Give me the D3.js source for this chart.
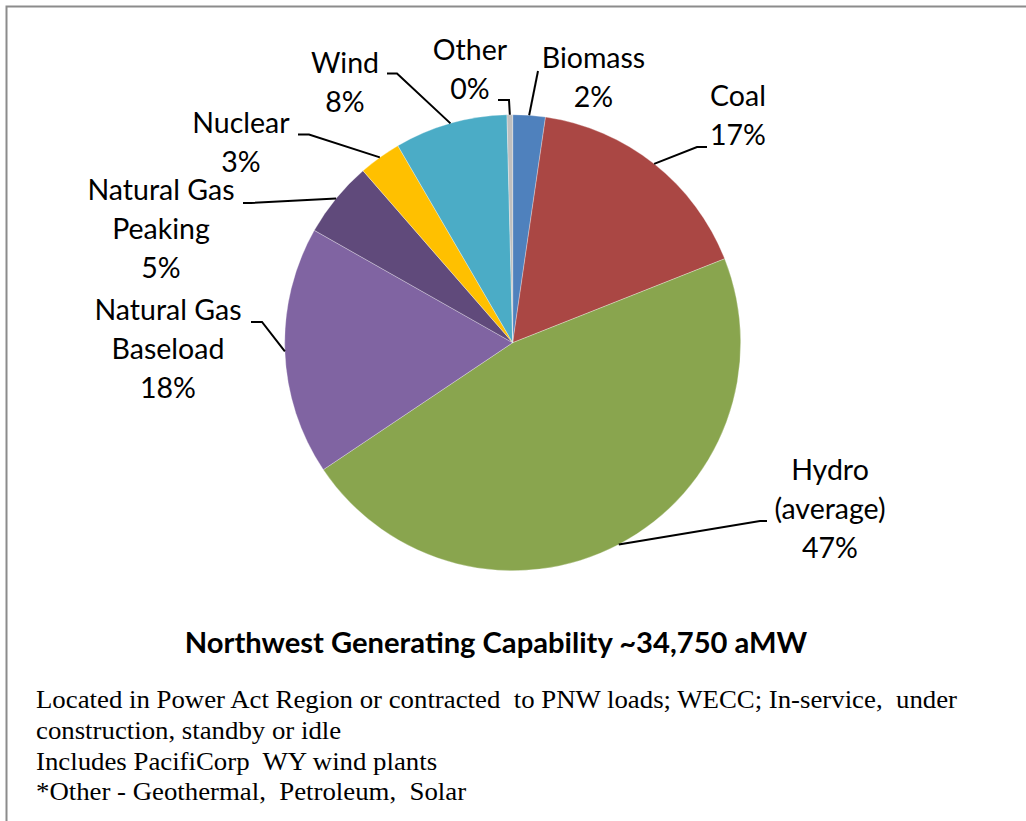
<!DOCTYPE html>
<html>
<head>
<meta charset="utf-8">
<script src="https://cdn.jsdelivr.net/npm/d3@7"></script>
<style>
  html, body { margin: 0; padding: 0; background: #fff; }
  svg { display: block; }
</style>
</head>
<body>
<svg id="chart" width="1026" height="821"></svg>
<script>
// ---- data ----
const categories = ["Biomass", "Coal", "Hydro (average)", "Natural Gas Baseload", "Natural Gas Peaking", "Nuclear", "Wind", "Other"];
const shares = [2.3, 16.7, 46.6, 17.6, 5.4, 3.0, 8.0, 0.4];
const labelLines = [["Biomass"], ["Coal"], ["Hydro", "(average)"], ["Natural Gas", "Baseload"], ["Natural Gas", "Peaking"], ["Nuclear"], ["Wind"], ["Other"]];
const colors = ["#4F81BD", "#AA4744", "#89A54E", "#8064A2", "#604A7B", "#FFC000", "#4BACC6", "#BFBFBF"];
const titleText = "Northwest Generating Capability ~34,750 aMW";
const notes = [
  "Located in Power Act Region or contracted  to PNW loads; WECC; In-service,  under",
  "construction, standby or idle",
  "Includes PacifiCorp  WY wind plants",
  "*Other - Geothermal,  Petroleum,  Solar"
];

// ---- layout (positions only) ----
const cx = 512.7, cy = 342.7, R = 228;
const lineH = 39;
// label centre x, first baseline y, leader start, leader elbow
const labelLayout = [
  { x: 593.5, y: 68,  start: [538, 71],    elbow: [538, 71] },
  { x: 738,   y: 106, start: [707, 147],   elbow: [697, 147] },
  { x: 830,   y: 480, start: [767, 521],   elbow: [760, 521] },
  { x: 168,   y: 320, start: [251, 322],   elbow: [262, 322] },
  { x: 161,   y: 200, start: [243, 203],   elbow: [251, 203] },
  { x: 241,   y: 133, start: [298, 134.5], elbow: [309, 134.5] },
  { x: 345,   y: 73,  start: [387, 73.5],  elbow: [397, 73.5] },
  { x: 470,   y: 60,  start: [498, 100],   elbow: [509, 100] }
];

const svg = d3.select("#chart");

// border
svg.append("rect")
  .attr("x", 6.5).attr("y", 6.5)
  .attr("width", 1100).attr("height", 900)
  .attr("fill", "none").attr("stroke", "#8C8C8C").attr("stroke-width", 2);

const total = d3.sum(shares);
const data = categories.map((c, i) => ({ name: c, value: shares[i], i }));

const pie = d3.pie().value(d => d.value).sort(null).startAngle(0).endAngle(2 * Math.PI);
const arcs = pie(data);
const arc = d3.arc().innerRadius(0).outerRadius(R);

const g = svg.append("g").attr("transform", `translate(${cx},${cy})`);
g.selectAll("path.slice")
  .data(arcs)
  .join("path")
  .attr("class", "slice")
  .attr("d", arc)
  .attr("fill", d => colors[d.data.i])
  .attr("stroke", "#ffffff")
  .attr("stroke-width", 0.5)
  .attr("stroke-opacity", 0.6);

// leader lines
const line = d3.line();
arcs.forEach(a => {
  const L = labelLayout[a.data.i];
  const mid = (a.startAngle + a.endAngle) / 2;
  const px = cx + R * Math.sin(mid);
  const py = cy - R * Math.cos(mid);
  svg.append("path")
    .attr("d", line([L.start, L.elbow, [px, py]]))
    .attr("fill", "none")
    .attr("stroke", "#000")
    .attr("stroke-width", 2);
});

// labels
const pctFmt = v => Math.round(v / total * 100) + "%";
arcs.forEach(a => {
  const L = labelLayout[a.data.i];
  const lines = labelLines[a.data.i].concat([pctFmt(a.data.value)]);
  const t = svg.append("text")
    .attr("x", L.x).attr("y", L.y)
    .attr("text-anchor", "middle")
    .attr("font-family", "Lato, 'Open Sans', sans-serif")
    .attr("font-size", 28.5)
    .attr("fill", "#000");
  lines.forEach((s, k) => {
    t.append("tspan").attr("x", L.x).attr("y", L.y + k * lineH).text(s);
  });
});

// title, fitted to its width in the reference
const title = svg.append("text")
  .attr("x", 496).attr("y", 653)
  .attr("text-anchor", "middle")
  .attr("font-family", "Lato, 'Open Sans', sans-serif")
  .attr("font-weight", "bold")
  .attr("font-size", 25)
  .attr("fill", "#000")
  .text(titleText);
const tw = title.node().getComputedTextLength();
title.attr("font-size", 25 * 623 / tw);

// notes: cap height matched, then compressed so line 1 spans its reference width
const noteG = svg.append("g");
const noteYs = [708, 739, 769.5, 800];
const noteFs = 25;
const noteTexts = notes.map((s, k) => noteG.append("text")
  .attr("x", 36).attr("y", noteYs[k])
  .attr("font-family", "'Liberation Serif', 'DejaVu Serif', serif")
  .attr("font-size", noteFs)
  .attr("fill", "#000")
  .attr("xml:space", "preserve")
  .style("white-space", "pre")
  .text(s));
const nw = noteTexts[0].node().getComputedTextLength();
const factor = 921 / nw;
noteTexts.forEach(t => {
  const w = t.node().getComputedTextLength();
  t.attr("textLength", w * factor).attr("lengthAdjust", "spacingAndGlyphs");
});
</script>
</body>
</html>
